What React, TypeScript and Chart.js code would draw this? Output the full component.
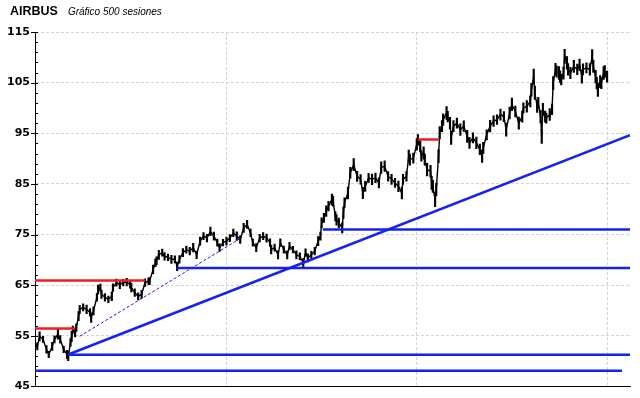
import React, { useEffect, useRef } from 'react';
import { Chart, registerables } from 'chart.js';

Chart.register(...registerables);

// Session index (0 = first of 500 sessions) and price
const sessions = [
  0, 2, 4, 7, 10, 12, 15, 17, 20, 22, 25, 28, 29, 31, 32, 33, 35, 36, 38, 39,
  42, 45, 48, 49, 51, 54, 55, 57, 58, 61, 64, 67, 68, 71, 74, 77, 80, 83, 84, 87,
  90, 93, 96, 99, 100, 103, 105, 106, 108, 111, 113, 116, 119, 122, 124, 126, 129, 132, 135, 138,
  141, 144, 147, 150, 153, 156, 159, 161, 164, 167, 170, 173, 176, 179, 182, 185, 188, 190, 193, 196,
  199, 202, 205, 206, 209, 212, 214, 217, 220, 222, 225, 228, 231, 234, 236, 238, 241, 244, 247, 249,
  250, 252, 254, 256, 259, 260, 262, 263, 265, 268, 269, 270, 273, 275, 278, 281, 284, 286, 288, 291,
  294, 297, 300, 302, 305, 308, 311, 314, 317, 320, 321, 324, 326, 327, 330, 333, 334, 336, 337, 339,
  340, 342, 345, 346, 347, 349, 350, 352, 353, 355, 356, 359, 360, 362, 363, 365, 368, 371, 374, 377,
  379, 382, 385, 388, 390, 391, 394, 397, 400, 403, 406, 409, 411, 414, 416, 419, 422, 425, 426, 429,
  432, 433, 435, 436, 438, 439, 441, 442, 443, 445, 446, 449, 451, 452, 454, 455, 457, 458, 459, 461,
  462, 464, 465, 467, 470, 473, 475, 477, 478, 481, 484, 486, 487, 489, 490, 491, 493, 494, 496, 497,
  499,
];
const prices = [
  53.5, 52.9, 54.9, 54.3, 52.3, 51.3, 52.9, 54.3, 55.3, 54.3, 52.3, 51.3, 51.0, 53.7, 54.9, 56.2, 55.6, 56.6, 58.9, 60.2,
  60.6, 60.2, 59.6, 58.6, 59.9, 62.6, 64.1, 64.5, 63.2, 62.6, 62.2, 62.8, 64.5, 65.5, 65.1, 65.5, 65.6, 65.1, 64.5, 63.5,
  62.8, 63.2, 65.5, 65.8, 65.8, 68.1, 69.4, 69.8, 71.0, 71.4, 70.7, 70.5, 70.1, 70.1, 68.7, 70.1, 71.4, 72.0, 71.7, 72.4,
  71.0, 73.7, 74.7, 74.3, 75.6, 74.7, 73.4, 72.4, 73.4, 73.7, 74.3, 75.3, 74.7, 74.0, 76.3, 77.0, 75.3, 73.4, 72.4, 74.3,
  74.7, 74.3, 73.4, 72.0, 72.4, 71.0, 73.4, 72.0, 71.0, 72.7, 72.0, 71.0, 70.7, 69.4, 71.4, 70.4, 71.0, 71.7, 73.7, 74.7,
  77.3, 78.3, 79.6, 80.6, 81.9, 81.6, 78.6, 77.9, 77.3, 76.3, 79.3, 81.3, 83.2, 87.2, 88.8, 86.5, 85.9, 83.2, 84.5, 86.2,
  85.9, 86.2, 85.2, 88.2, 88.5, 86.5, 85.9, 85.2, 84.5, 83.2, 85.9, 86.5, 90.5, 89.8, 90.1, 92.8, 93.7, 92.4, 90.5, 91.1,
  89.8, 87.8, 87.5, 85.2, 84.5, 81.9, 83.9, 90.5, 95.1, 96.4, 97.7, 99.0, 98.3, 97.0, 94.1, 96.4, 97.0, 95.7, 96.4, 94.4,
  93.1, 94.1, 93.1, 91.8, 90.5, 92.1, 94.7, 96.4, 97.4, 97.7, 98.7, 98.3, 95.7, 99.0, 100.7, 99.3, 97.0, 98.3, 100.0, 100.3,
  101.3, 103.6, 106.2, 103.0, 100.3, 101.0, 98.3, 94.4, 99.7, 98.3, 98.0, 98.7, 99.7, 104.9, 107.6, 107.2, 106.9, 106.2, 105.6, 106.9,
  110.2, 108.9, 107.6, 106.9, 108.2, 107.6, 108.5, 106.2, 107.6, 107.9, 107.6, 110.2, 108.2, 106.2, 104.9, 103.6, 105.2, 104.9, 106.9, 107.2,
  106.2,
];
// Daily high-low span seen around each point (price units)
const spans = [
  1.6, 1.4, 1.8, 1.2, 1.5, 1.3, 1.6, 1.4, 1.9, 1.5, 1.3, 1.6, 1.8, 1.5, 2.0, 1.4, 1.7, 1.5, 1.8, 1.6,
  1.4, 1.7, 1.5, 1.9, 1.6, 1.5, 1.8, 1.4, 1.6, 1.5, 1.3, 1.7, 1.5, 1.4, 1.6, 1.3, 1.5, 1.4, 1.7, 1.5,
  1.4, 1.6, 1.5, 1.3, 1.4, 1.7, 1.5, 1.6, 1.8, 1.4, 1.5, 1.3, 1.6, 1.4, 1.7, 1.5, 1.6, 1.4, 1.5, 1.7,
  1.5, 1.6, 1.4, 1.5, 1.7, 1.6, 1.4, 1.5, 1.3, 1.6, 1.4, 1.5, 1.7, 1.5, 1.8, 1.6, 1.5, 1.4, 1.6, 1.5,
  1.4, 1.6, 1.5, 1.7, 1.4, 1.6, 1.5, 1.4, 1.6, 1.5, 1.3, 1.6, 1.4, 1.7, 1.5, 1.6, 1.4, 1.5, 1.8, 1.6,
  2.0, 1.8, 2.1, 1.9, 2.2, 2.0, 1.8, 2.1, 1.9, 2.0, 2.2, 1.9, 2.3, 2.1, 2.4, 2.0, 1.9, 2.2, 2.0, 1.8,
  2.1, 1.9, 2.0, 2.3, 2.1, 1.9, 2.0, 1.8, 2.1, 2.3, 2.0, 1.9, 2.4, 2.2, 2.0, 2.3, 2.1, 2.2, 2.0, 2.4,
  2.2, 2.5, 2.3, 2.6, 2.4, 2.8, 2.5, 2.6, 2.4, 2.2, 2.3, 2.5, 2.1, 2.3, 2.6, 2.2, 2.0, 2.3, 2.1, 2.4,
  2.2, 2.0, 2.3, 2.1, 2.5, 2.2, 2.0, 2.3, 2.1, 1.9, 2.2, 2.0, 2.6, 2.3, 2.5, 2.1, 2.4, 2.2, 2.0, 2.3,
  2.2, 2.5, 3.0, 2.6, 2.4, 2.2, 2.5, 2.8, 2.4, 2.2, 2.0, 2.3, 2.1, 2.6, 2.4, 2.2, 2.5, 2.3, 2.1, 2.4,
  2.8, 2.5, 2.3, 2.2, 2.4, 2.1, 2.3, 2.6, 2.2, 2.0, 2.3, 2.7, 2.4, 2.5, 2.3, 2.6, 2.4, 2.2, 2.5, 2.3,
  2.2,
];

// Support / resistance levels
const redLevels = [56.45, 65.9, 93.75];
const redFrom = [0, 0, 334];
const redTo = [35, 96, 352];
const blueLevels = [48.1, 51.25, 68.4, 76.0];
const blueFrom = [0, 29, 124, 251];
const blueTo = [512, 519, 519, 519];
const trendSessions = [29, 519];
const trendValues = [51.3, 94.6];
const guideSessions = [39, 180];
const guideValues = [54.9, 74.35];

// Axes
const xMin = 0;
const xMax = 519;
const xGridSessions = [167, 333, 499];
const yMin = 45;
const yMax = 115;
const yMinorStep = 2;
const yLabelStep = 10;

const RED = 'rgb(238,28,28)';
const BLUE = 'rgb(24,32,240)';
const GRID = 'rgb(212,212,212)';

function segment(xs: number[], ys: number[]) {
  return xs.map((x, i) => ({ x, y: ys[i] }));
}

export default function App() {
  const ref = useRef<HTMLCanvasElement | null>(null);

  useEffect(() => {
    if (!ref.current) return;
    const yTicks: number[] = [];
    for (let v = yMin; v <= yMax; v += yMinorStep) yTicks.push(v);

    const datasets: any[] = [
      {
        type: 'bar',
        data: sessions.map((s, i) => ({ x: s, y: [prices[i] - spans[i] / 2, prices[i] + spans[i] / 2] })),
        backgroundColor: '#000',
        borderWidth: 0,
        barThickness: 1.5,
        order: 6,
      },
      {
        type: 'line',
        data: segment(sessions, prices),
        borderColor: '#000',
        borderWidth: 1.4,
        pointRadius: 0,
        tension: 0,
        order: 5,
      },
    ];
    redLevels.forEach((lv, i) => {
      datasets.push({
        type: 'line',
        data: [{ x: redFrom[i], y: lv }, { x: redTo[i], y: lv }],
        borderColor: RED,
        borderWidth: 2.5,
        pointRadius: 0,
        order: 1,
      });
    });
    blueLevels.forEach((lv, i) => {
      datasets.push({
        type: 'line',
        data: [{ x: blueFrom[i], y: lv }, { x: blueTo[i], y: lv }],
        borderColor: BLUE,
        borderWidth: 2.5,
        pointRadius: 0,
        order: 1,
      });
    });
    datasets.push({
      type: 'line',
      data: segment(trendSessions, trendValues),
      borderColor: BLUE,
      borderWidth: 2.5,
      pointRadius: 0,
      order: 1,
    });
    datasets.push({
      type: 'line',
      data: segment(guideSessions, guideValues),
      borderColor: BLUE,
      borderWidth: 1,
      borderDash: [3, 2],
      pointRadius: 0,
      order: 1,
    });

    const tickMarks = {
      id: 'tickMarks',
      afterDraw(chart: any) {
        const ys = chart.scales.y;
        const left = chart.chartArea.left;
        const ctx = chart.ctx;
        ctx.save();
        ctx.strokeStyle = '#000';
        ctx.lineWidth = 1;
        yTicks.forEach((v) => {
          const py = Math.round(ys.getPixelForValue(v)) + 0.5;
          const major = (v - yMin) % yLabelStep === 0;
          ctx.beginPath();
          ctx.moveTo(major ? left - 4 : left, py);
          ctx.lineTo(left + 3, py);
          ctx.stroke();
        });
        ctx.restore();
      },
    };

    const chart = new Chart(ref.current, {
      type: 'line',
      data: { datasets },
      options: {
        animation: false,
        responsive: false,
        maintainAspectRatio: false,
        layout: { padding: { left: 0, right: 10, top: 32, bottom: 11 } },
        plugins: { legend: { display: false }, tooltip: { enabled: false } },
        scales: {
          x: {
            type: 'linear',
            offset: false,
            min: xMin,
            max: xMax,
            afterBuildTicks: (s: any) => {
              s.ticks = xGridSessions.map((v) => ({ value: v }));
            },
            afterFit: (s: any) => {
              s.height = 0;
            },
            ticks: { display: false },
            grid: { color: GRID, drawTicks: false, tickLength: 0, offset: false },
            border: { display: true, color: '#000', width: 1, dash: [3, 2] },
          },
          y: {
            type: 'linear',
            min: yMin,
            max: yMax,
            afterBuildTicks: (s: any) => {
              s.ticks = yTicks.map((v) => ({ value: v }));
            },
            afterFit: (s: any) => {
              s.width = 35;
            },
            ticks: {
              autoSkip: false,
              padding: 5,
              color: '#000',
              font: { family: 'DejaVu Sans', size: 11, weight: 'bold' },
              callback: (v: any) => ((Number(v) - yMin) % yLabelStep === 0 ? String(v) : ''),
            },
            grid: {
              drawTicks: false,
              tickLength: 0,
              color: (c: any) =>
                c.tick && (c.tick.value - yMin) % yLabelStep === 0 && c.tick.value !== yMin
                  ? GRID
                  : 'rgba(0,0,0,0)',
            },
            border: { display: true, color: '#000', width: 1, dash: [3, 2] },
          },
        },
      },
      plugins: [tickMarks],
    } as any);
    return () => chart.destroy();
  }, []);

  return (
    <div style={{ position: 'fixed', left: 0, top: 0, width: 640, height: 398, background: '#fff' }}>
      <canvas ref={ref} width={640} height={398} style={{ display: 'block' }} />
      <div
        style={{
          position: 'absolute',
          left: 10,
          top: 3,
          fontFamily: 'Liberation Sans, Arial, sans-serif',
          whiteSpace: 'nowrap',
          lineHeight: '14px',
        }}
      >
        <span style={{ fontWeight: 'bold', fontSize: 12.5, color: '#000' }}>AIRBUS</span>
        <span style={{ fontStyle: 'italic', fontSize: 10, marginLeft: 10, color: '#000' }}>Gráfico 500 sesiones</span>
      </div>
    </div>
  );
}
